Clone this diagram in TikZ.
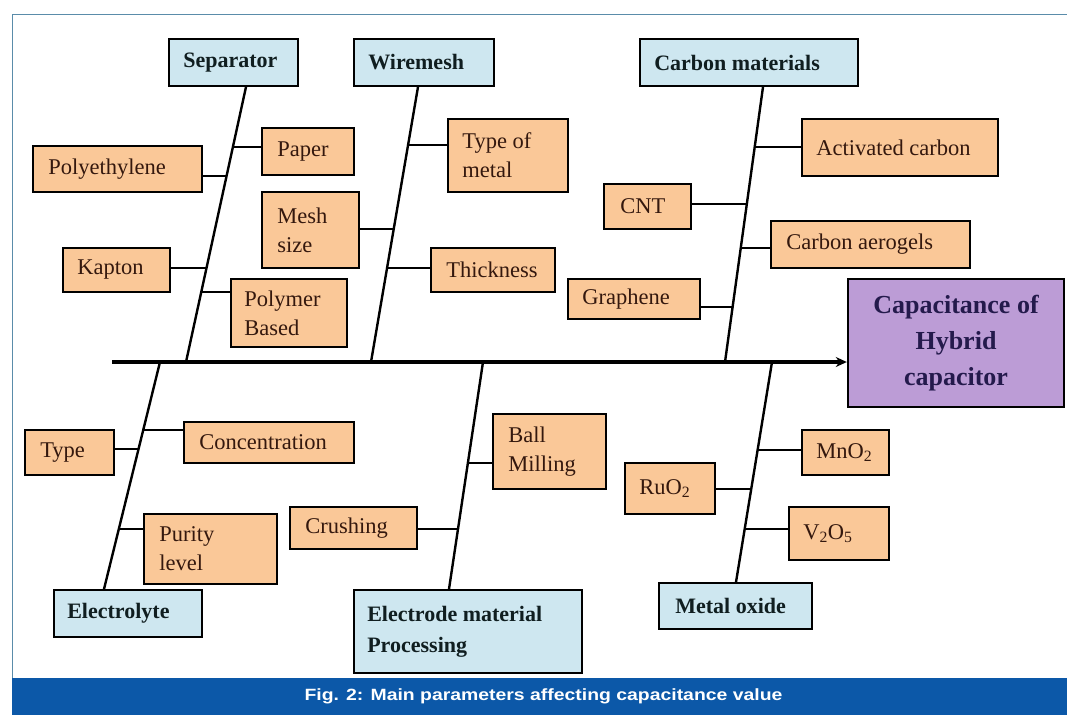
\documentclass[tikz,border=0pt]{standalone}
\usepackage{fontspec}
\usepackage{graphicx}
\setmainfont{Liberation Serif}
\newfontfamily\capfont{Liberation Sans}
\usetikzlibrary{fit,calc,arrows.meta}
\definecolor{bluefill}{RGB}{206,231,240}
\definecolor{orangefill}{RGB}{250,200,152}
\definecolor{purplefill}{RGB}{188,156,214}
\definecolor{captionblue}{RGB}{12,88,168}
\definecolor{framecol}{RGB}{90,140,170}
\definecolor{catcol}{RGB}{16,30,32}
\definecolor{optcol}{RGB}{52,24,14}
\definecolor{capcol}{RGB}{36,26,76}
\tikzset{
  catbox/.style={draw=black, line width=1.8pt, fill=bluefill, inner sep=0pt},
  optbox/.style={draw=black, line width=1.8pt, fill=orangefill, inner sep=0pt},
  capbox/.style={draw=black, line width=2.4pt, fill=purplefill, inner sep=0pt},
  cattext/.style={anchor=west, align=left, inner sep=0pt, text=catcol,
    font=\fontsize{22}{31}\selectfont\bfseries},
  opttext/.style={anchor=west, align=left, inner sep=0pt, text=optcol,
    font=\fontsize{22.5}{29}\selectfont},
  spine/.style={line width=3.4pt, draw=black},
  bone/.style={line width=2.4pt, draw=black},
  twig/.style={line width=2pt, draw=black},
}
\begin{document}
\begin{tikzpicture}[x=1pt,y=-1pt]
\useasboundingbox (0,0) rectangle (1067,715);
\fill[white] (0,0) rectangle (1067,715);
% frame and caption
\draw[framecol, line width=1pt] (1067,14) -- (12,14) -- (12,678);
\fill[captionblue] (12,678) rectangle (1067,715);
\node[text=white, inner sep=0pt, font=\capfont\fontsize{16.3}{18}\selectfont\bfseries] (caption) at (543.5,696.5)
  {\scalebox{1.19}[1]{Fig. 2: Main parameters affecting capacitance value}};

% category boxes
\node[catbox, fit={(169,39) (298,86)}] (sep) {};
\node[cattext] (sep-t) at ([xshift=15pt]sep.west) {Separator};
\node[catbox, fit={(354,39) (494,86)}] (wire) {};
\node[cattext] (wire-t) at ([xshift=15pt]wire.west) {Wiremesh};
\node[catbox, fit={(640,39) (858,86)}] (carb) {};
\node[cattext] (carb-t) at ([xshift=15pt]carb.west) {Carbon materials};
\node[catbox, fit={(54,590) (202,637)}] (elec) {};
\node[cattext] (elec-t) at ([xshift=14pt]elec.west) {Electrolyte};
\node[catbox, fit={(354,590) (582,673)}] (epm) {};
\node[cattext] (epm-t) at ([xshift=14pt]epm.west) {Electrode material\\Processing};
\node[catbox, fit={(659,583) (812,629)}] (metal) {};
\node[cattext] (metal-t) at ([xshift=17pt]metal.west) {Metal oxide};

% result box
\node[capbox, fit={(848,279) (1064,407)}] (cap) {};
\node[inner sep=0pt, align=center, text=capcol, font=\fontsize{26}{36}\selectfont\bfseries] (cap-t)
  at (cap.center) {Capacitance of\\Hybrid\\capacitor};

% option boxes
\node[optbox, fit={(262,128) (354,175)}] (paper) {};
\node[opttext] (paper-t) at ([xshift=16pt]paper.west) {Paper};
\node[optbox, fit={(33,146) (202,192)}] (poly) {};
\node[opttext] (poly-t) at ([xshift=16pt]poly.west) {Polyethylene};
\node[optbox, fit={(262,192) (359,268)}] (mesh) {};
\node[opttext] (mesh-t) at ([xshift=16pt]mesh.west) {Mesh\\size};
\node[optbox, fit={(63,248) (170,292)}] (kapton) {};
\node[opttext] (kapton-t) at ([xshift=15pt]kapton.west) {Kapton};
\node[optbox, fit={(231,279) (347,347)}] (polymer) {};
\node[opttext] (polymer-t) at ([xshift=14pt]polymer.west) {Polymer\\Based};
\node[optbox, fit={(448,119) (568,192)}] (tom) {};
\node[opttext] (tom-t) at ([xshift=15pt]tom.west) {Type of\\metal};
\node[optbox, fit={(604,184) (691,229)}] (cnt) {};
\node[opttext] (cnt-t) at ([xshift=17pt]cnt.west) {CNT};
\node[optbox, fit={(431,248) (555,292)}] (thick) {};
\node[opttext] (thick-t) at ([xshift=16pt]thick.west) {Thickness};
\node[optbox, fit={(568,279) (700,319)}] (graph) {};
\node[opttext] (graph-t) at ([xshift=15pt]graph.west) {Graphene};
\node[optbox, fit={(802,119) (998,176)}] (act) {};
\node[opttext] (act-t) at ([xshift=15pt]act.west) {Activated carbon};
\node[optbox, fit={(771,221) (970,268)}] (aero) {};
\node[opttext] (aero-t) at ([xshift=16pt]aero.west) {Carbon aerogels};
\node[optbox, fit={(25,430) (114,475)}] (type) {};
\node[opttext] (type-t) at ([xshift=16pt]type.west) {Type};
\node[optbox, fit={(184,422) (354,463)}] (conc) {};
\node[opttext] (conc-t) at ([xshift=16pt]conc.west) {Concentration};
\node[optbox, fit={(144,514) (277,584)}] (purity) {};
\node[opttext] (purity-t) at ([xshift=16pt]purity.west) {Purity\\level};
\node[optbox, fit={(290,507) (417,549)}] (crush) {};
\node[opttext] (crush-t) at ([xshift=16pt]crush.west) {Crushing};
\node[optbox, fit={(493,414) (606,489)}] (ball) {};
\node[opttext] (ball-t) at ([xshift=16pt]ball.west) {Ball\\Milling};
\node[optbox, fit={(625,463) (715,514)}] (ruo) {};
\node[opttext] (ruo-t) at ([xshift=15pt]ruo.west) {RuO\textsubscript{2}};
\node[optbox, fit={(802,430) (889,475)}] (mno) {};
\node[opttext] (mno-t) at ([xshift=15pt]mno.west) {MnO\textsubscript{2}};
\node[optbox, fit={(789,507) (889,560)}] (vo) {};
\node[opttext] (vo-t) at ([xshift=15pt]vo.west) {V\textsubscript{2}O\textsubscript{5}};

% spine
\coordinate (spL) at (112,362);
\draw[spine, -{Stealth[length=11pt,width=10pt]}] (spL) -- (spL -| cap.west);

% separator bone
\coordinate (sepT) at ([xshift=12.5pt]sep.south);
\coordinate (sepB) at (186,362);
\draw[bone] (sepT) -- (sepB);
\coordinate (b-paper) at ($(sepT)!0.2174!(sepB)$);
\coordinate (b-poly) at ($(sepT)!0.3225!(sepB)$);
\coordinate (b-kapton) at ($(sepT)!0.6594!(sepB)$);
\coordinate (b-polymer) at ($(sepT)!0.7464!(sepB)$);
\draw[twig] (b-paper) -- (b-paper -| paper.west);
\draw[twig] (b-poly) -- (b-poly -| poly.east);
\draw[twig] (b-kapton) -- (b-kapton -| kapton.east);
\draw[twig] (b-polymer) -- (b-polymer -| polymer.west);

% wiremesh bone
\coordinate (wireT) at ([xshift=-6pt]wire.south);
\coordinate (wireB) at (371,362);
\draw[bone] (wireT) -- (wireB);
\coordinate (b-tom) at ($(wireT)!0.2101!(wireB)$);
\coordinate (b-mesh) at ($(wireT)!0.5181!(wireB)$);
\coordinate (b-thick) at ($(wireT)!0.6594!(wireB)$);
\draw[twig] (b-tom) -- (b-tom -| tom.west);
\draw[twig] (b-mesh) -- (b-mesh -| mesh.east);
\draw[twig] (b-thick) -- (b-thick -| thick.west);

% carbon bone
\coordinate (carbT) at ([xshift=14pt]carb.south);
\coordinate (carbB) at (725,362);
\draw[bone] (carbT) -- (carbB);
\coordinate (b-act) at ($(carbT)!0.2174!(carbB)$);
\coordinate (b-cnt) at ($(carbT)!0.4239!(carbB)$);
\coordinate (b-aero) at ($(carbT)!0.5870!(carbB)$);
\coordinate (b-graph) at ($(carbT)!0.8007!(carbB)$);
\draw[twig] (b-act) -- (b-act -| act.west);
\draw[twig] (b-cnt) -- (b-cnt -| cnt.east);
\draw[twig] (b-aero) -- (b-aero -| aero.west);
\draw[twig] (b-graph) -- (b-graph -| graph.east);

% electrolyte bone
\coordinate (elecT) at (160,362);
\coordinate (elecB) at ([xshift=-24pt]elec.north);
\draw[bone] (elecT) -- (elecB);
\coordinate (b-conc) at ($(elecT)!0.2982!(elecB)$);
\coordinate (b-type) at ($(elecT)!0.3816!(elecB)$);
\coordinate (b-purity) at ($(elecT)!0.7368!(elecB)$);
\draw[twig] (b-conc) -- (b-conc -| conc.west);
\draw[twig] (b-type) -- (b-type -| type.east);
\draw[twig] (b-purity) -- (b-purity -| purity.west);

% electrode bone
\coordinate (epmT) at (483,362);
\coordinate (epmB) at ([xshift=-19pt]epm.north);
\draw[bone] (epmT) -- (epmB);
\coordinate (b-ball) at ($(epmT)!0.4430!(epmB)$);
\coordinate (b-crush) at ($(epmT)!0.7368!(epmB)$);
\draw[twig] (b-ball) -- (b-ball -| ball.west);
\draw[twig] (b-crush) -- (b-crush -| crush.east);

% metal oxide bone
\coordinate (metalT) at (772,362);
\coordinate (metalB) at ([xshift=0.5pt]metal.north);
\draw[bone] (metalT) -- (metalB);
\coordinate (b-mno) at ($(metalT)!0.3982!(metalB)$);
\coordinate (b-ruo) at ($(metalT)!0.5747!(metalB)$);
\coordinate (b-vo) at ($(metalT)!0.7602!(metalB)$);
\draw[twig] (b-mno) -- (b-mno -| mno.west);
\draw[twig] (b-ruo) -- (b-ruo -| ruo.east);
\draw[twig] (b-vo) -- (b-vo -| vo.west);
\end{tikzpicture}
\end{document}
